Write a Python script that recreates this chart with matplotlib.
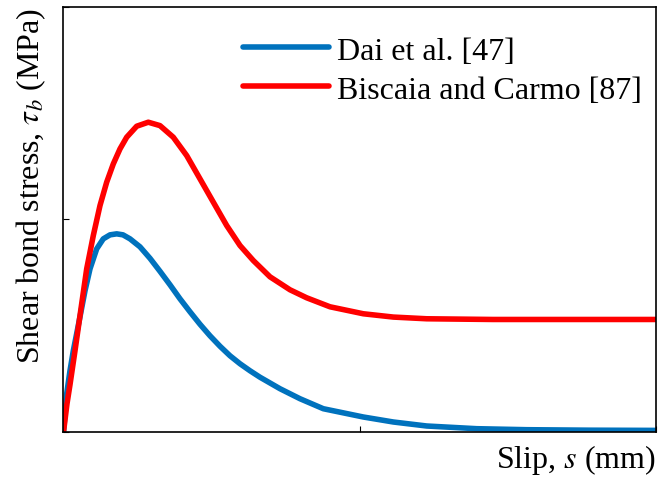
import numpy as np
import matplotlib
matplotlib.use('Agg')
from matplotlib import pyplot as plt

# bond-slip curves (normalised axes, no tick values shown)
s_dai = [0.0, 0.0108, 0.0219, 0.0331, 0.0557, 0.0726, 0.0895, 0.1121, 0.1343,
         0.1570, 0.1796, 0.2008, 0.2245, 0.2582, 0.2920, 0.3257, 0.3595, 0.3932,
         0.4270, 0.4608, 0.4945, 0.5283, 0.5620, 0.5958, 0.6295, 0.6633, 0.7308,
         0.7983, 0.8770, 1.0120, 1.1133, 1.2260, 1.3948, 1.5636, 1.7772, 2.0]
tau_dai = [0.0, 0.1799, 0.2879, 0.3819, 0.5416, 0.6637, 0.7670, 0.8610, 0.9079,
           0.9267, 0.9314, 0.9267, 0.9079, 0.8704, 0.8163, 0.7553, 0.6919, 0.6261,
           0.5650, 0.5063, 0.4523, 0.4030, 0.3584, 0.3208, 0.2879, 0.2574, 0.2034,
           0.1564, 0.1094, 0.0705, 0.0470, 0.0282, 0.0155, 0.0108, 0.0085, 0.0075]

s_bis = [0.0, 0.0118, 0.0219, 0.0388, 0.0614, 0.0783, 0.1006, 0.1232, 0.1458,
         0.1681, 0.1907, 0.2133, 0.2471, 0.2862, 0.3257, 0.3706, 0.4159, 0.4608,
         0.5057, 0.5509, 0.5958, 0.6407, 0.6970, 0.7646, 0.8209, 0.8996, 1.0120,
         1.1133, 1.2260, 1.4498, 1.6760, 2.0]
tau_bis = [0.0, 0.1329, 0.2222, 0.3819, 0.6026, 0.7670, 0.9234, 1.0644, 1.1743,
           1.2602, 1.3307, 1.3856, 1.4373, 1.4561, 1.4401, 1.3856, 1.2992, 1.1898,
           1.0803, 0.9704, 0.8765, 0.8060, 0.7295, 0.6684, 0.6308, 0.5885, 0.5557,
           0.5402, 0.5322, 0.5289, 0.5289, 0.5289]

labels = ['Dai et al. [47]', 'Biscaia and Carmo [87]']

plt.rcParams['font.family'] = ['Liberation Serif', 'DejaVu Serif']
plt.rcParams['mathtext.fontset'] = 'stix'

fig = plt.figure(figsize=(6.67, 4.81), dpi=100)
ax = fig.add_axes([0.0952, 0.0998, 0.8883, 0.8846])

ax.plot(s_dai, tau_dai, color='#0072BD', lw=4, label=labels[0],
        solid_capstyle='round', solid_joinstyle='round')
ax.plot(s_bis, tau_bis, color='#FF0000', lw=4, label=labels[1],
        solid_capstyle='round', solid_joinstyle='round')

ax.set_xlim(0, 2)
ax.set_ylim(0, 2)
ax.set_xticks([0, 1, 2])
ax.set_yticks([0, 1, 2])
ax.set_xticklabels([])
ax.set_yticklabels([])
ax.tick_params(direction='in', length=4, width=0.8)
for sp in ax.spines.values():
    sp.set_linewidth(1.2)

ax.set_xlabel('Slip, $s$ (mm)', fontsize=23, loc='right', labelpad=4)
ax.set_ylabel('Shear bond stress, $\\tau_b$ (MPa)', fontsize=23, loc='top', labelpad=8)

ax.legend(frameon=False, fontsize=23, loc='upper left', bbox_to_anchor=(0.303, 0.93),
          borderpad=0, borderaxespad=0, handlelength=2.7, handletextpad=0.25,
          labelspacing=0.3)

plt.savefig('out.png', dpi=100)
